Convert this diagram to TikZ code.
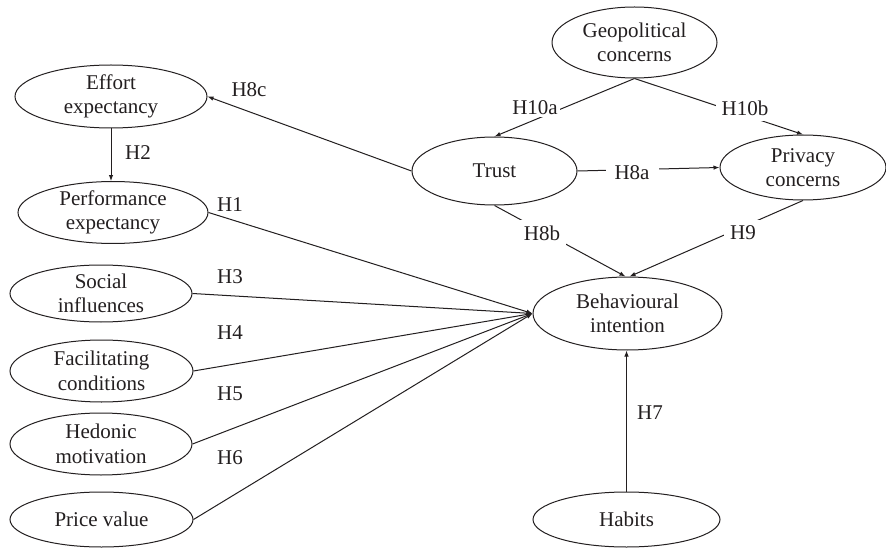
\documentclass[tikz,border=0pt]{standalone}
\usepackage{fontspec}
\setmainfont{Liberation Serif}
\usetikzlibrary{shapes.geometric,arrows.meta}
\definecolor{ink}{HTML}{231F20}
\begin{document}
\begin{tikzpicture}[x=1pt,y=-1pt,
  every node/.style={font=\fontsize{21}{24.5}\selectfont, text=ink},
  var/.style={ellipse, draw=ink, line width=1pt, inner sep=0pt, align=center},
  conn/.style={draw=ink, line width=1pt, -{Latex[length=6pt,width=4.5pt]}},
  lbl/.style={fill=white, inner sep=6pt},
  plain/.style={inner sep=1pt}]
\useasboundingbox[fill=white] (0,0) rectangle (886,548);
% constructs
\node[var, minimum width=192pt, minimum height=63pt] (effort) at (111,96.5) {Effort\\expectancy};
\node[var, minimum width=190pt, minimum height=61pt] (perf) at (113,212.5) {Performance\\expectancy};
\node[var, minimum width=182pt, minimum height=57pt] (social) at (101,293.5) {Social\\influences};
\node[var, minimum width=183pt, minimum height=62pt] (facil) at (101.5,371) {Facilitating\\conditions};
\node[var, minimum width=182pt, minimum height=62pt] (hedon) at (101,444) {Hedonic\\motivation};
\node[var, minimum width=183pt, minimum height=55pt] (price) at (101.5,519.5) {Price value};
\node[var, minimum width=165pt, minimum height=71pt] (geo) at (634.5,42.5) {Geopolitical\\concerns};
\node[var, minimum width=165pt, minimum height=68pt] (trust) at (494.5,171) {Trust};
\node[var, minimum width=166pt, minimum height=65pt] (priv) at (803,167.5) {Privacy\\concerns};
\node[var, minimum width=189pt, minimum height=73pt] (bi) at (627.5,313.5) {Behavioural\\intention};
\node[var, minimum width=187pt, minimum height=55pt] (habits) at (626.5,519.5) {Habits};
% connectors
\draw[conn] (trust.west) -- (effort.east);
\draw[conn] (effort.south) -- (effort.south |- perf.north);
\draw[conn] (perf.east) -- (bi.west);
\draw[conn] (social.east) -- (bi.west);
\draw[conn] (facil.east) -- (bi.west);
\draw[conn] (hedon.east) -- (bi.west);
\draw[conn] (price.east) -- (bi.west);
\draw[conn] (geo.south) -- (trust.north);
\draw[conn] (geo.south) -- (priv.north);
\draw[conn] (trust.east) -- (priv.west);
\draw[conn] (trust.south) -- ([xshift=-2pt]bi.north);
\draw[conn] (priv.south) -- ([xshift=2pt]bi.north);
\draw[conn] (habits.north) -- (habits.north |- bi.south);
% labels
\node[plain] (l8c) at (249,90) {H8c};
\node[plain] (l2) at (138,153) {H2};
\node[plain] (l1) at (230,205) {H1};
\node[plain] (l3) at (230,277) {H3};
\node[plain] (l4) at (230,333) {H4};
\node[plain] (l5) at (230,394) {H5};
\node[plain] (l6) at (230,458) {H6};
\node[lbl, inner sep=2pt] (l10a) at (535,108) {H10a};
\node[lbl] (l10b) at (745,108) {H10b};
\node[lbl, inner xsep=9pt] (l8a) at (632,173) {H8a};
\node[lbl] (l8b) at (542,233) {H8b};
\node[lbl] (l9) at (743,233) {H9};
\node[plain] (l7) at (650,413) {H7};
\end{tikzpicture}
\end{document}
